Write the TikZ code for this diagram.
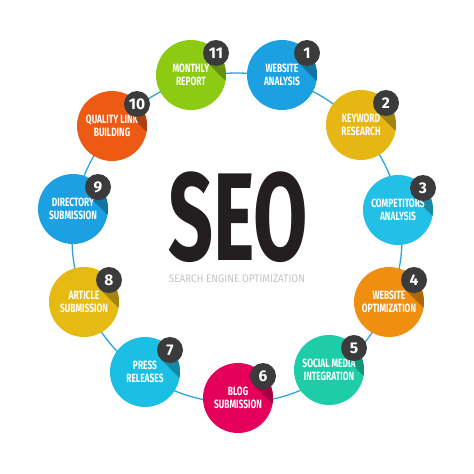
\documentclass[tikz,border=0pt]{standalone}
\usepackage{fontspec}
\setmainfont{Fira Sans}
\newfontfamily\labfont[FakeStretch=0.7]{Fira Sans}
\newfontfamily\seofont[FakeStretch=0.63]{Fira Sans}
\newfontfamily\subfont[FakeStretch=0.9]{Fira Sans}
\usetikzlibrary{calc}
\definecolor{cA}{HTML}{1BA1E2}
\definecolor{cB}{HTML}{E6B712}
\definecolor{cC}{HTML}{22BFE6}
\definecolor{cD}{HTML}{EF8F10}
\definecolor{cE}{HTML}{1CCDA8}
\definecolor{cF}{HTML}{E4005A}
\definecolor{cG}{HTML}{1CBFE4}
\definecolor{cH}{HTML}{E5BA12}
\definecolor{cI}{HTML}{1BA0E2}
\definecolor{cJ}{HTML}{EC5A14}
\definecolor{cK}{HTML}{8CCB12}
\definecolor{badgegray}{HTML}{3B3B3B}
\definecolor{ringblue}{HTML}{2FA3DA}
\definecolor{subgray}{HTML}{C4C4C4}
\definecolor{seoblack}{HTML}{231F20}
\tikzset{
  lab/.style={circle, minimum size=70pt, inner sep=0pt, align=center, text=white,
    font=\labfont\bfseries\fontsize{12}{13.5}\selectfont},
  badge/.style={circle, fill=badgegray, minimum size=26pt, inner sep=0pt, text=white,
    font=\bfseries\fontsize{15.5}{15.5}\selectfont},
  ring/.style={draw=ringblue, line width=1.3pt}
}
\begin{document}
\begin{tikzpicture}[x=1pt,y=-1pt]
\useasboundingbox[fill=white] (0,0) rectangle (474,474);
\coordinate (ringc) at (237,238);
\draw[ring] (ringc) circle (165pt);
\foreach \n/\x/\y/\col/\la/\lb in {
  1/282/75/cA/WEBSITE/ANALYSIS,
  2/361/125/cB/KEYWORD/RESEARCH,
  3/398/210/cC/COMPETITORS/ANALYSIS,
  4/389/302/cD/WEBSITE/OPTIMIZATION,
  5/329/370/cE/SOCIAL MEDIA/INTEGRATION,
  6/238/398/cF/BLOG/SUBMISSION,
  7/145/372/cG/PRESS/RELEASES,
  8/84/302/cH/ARTICLE/SUBMISSION,
  9/73/209/cI/DIRECTORY/SUBMISSION,
  10/112/126/cJ/QUALITY LINK/BUILDING,
  11/191/75/cK/MONTHLY/REPORT}{
  \fill[\col] (\x,\y) circle (35pt);
  \begin{scope}
    \clip (\x,\y) circle (35pt);
    \fill[\col!72!black] ($(\x,\y)+(25,-22)+(9.19,-9.19)$) -- ($(\x,\y)+(25,-22)+(-9.19,9.19)$)
      -- ++(60,60) -- ++(18.38,-18.38) -- cycle;
  \end{scope}
  \node[lab] (c\n) at (\x,\y) {\la\\\lb};
  \node[badge] (b\n) at ($(c\n)+(25,-22)$) {\n};
}
\node[inner sep=0pt, text=seoblack, font=\seofont\bfseries\fontsize{125}{125}\selectfont] (seo) at (238,217) {SEO};
\node[inner sep=0pt, text=subgray, font=\subfont\fontsize{11}{11}\selectfont] (sub) at (237,279) {SEARCH ENGINE OPTIMIZATION};
\end{tikzpicture}
\end{document}
